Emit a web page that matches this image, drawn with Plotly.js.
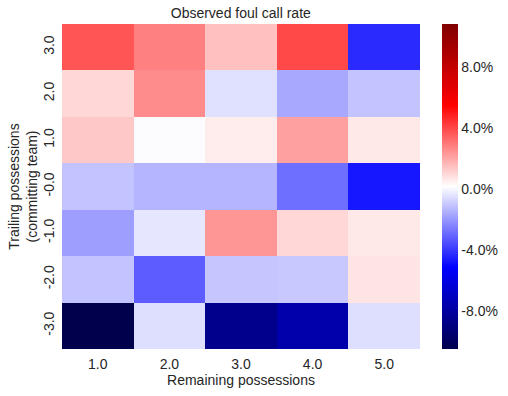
<!DOCTYPE html>
<html>
<head>
<meta charset="utf-8">
<script src="https://cdn.plot.ly/plotly-3.0.1.min.js"></script>
<style>html,body{margin:0;padding:0;background:#fff;}#chart{width:508px;height:396px;}</style>
</head>
<body>
<div id="chart"></div>
<script>
// Columns: remaining possessions; rows: trailing possessions (top to bottom)
const remaining = ["1.0", "2.0", "3.0", "4.0", "5.0"];
const trailing = ["3.0", "2.0", "1.0", "-0.0", "-1.0", "-2.0", "-3.0"];
// Observed foul call rate (percent), one array per trailing row
const row_p3 = [3.74, 2.83, 1.50, 4.00, -4.29];
const row_p2 = [1.01, 2.59, -0.47, -1.65, -1.08];
const row_p1 = [1.33, 0.11, 0.57, 2.16, 0.66];
const row_0 = [-1.08, -1.39, -1.39, -2.86, -4.70];
const row_m1 = [-1.85, -0.35, 2.37, 1.01, 0.66];
const row_m2 = [-1.08, -3.24, -1.02, -0.98, 0.74];
const row_m3 = [-10.5, -0.52, -8.6, -7.7, -0.52];
const colorTicks = [-8, -4, 0, 4, 8];

const z = [row_p3, row_p2, row_p1, row_0, row_m1, row_m2, row_m3];

const seismic = [
  [0, "rgb(0,0,77)"],
  [0.25, "rgb(0,0,255)"],
  [0.5, "rgb(255,255,255)"],
  [0.75, "rgb(255,0,0)"],
  [1, "rgb(128,0,0)"]
];

const font = {family: "Liberation Sans, Arial, sans-serif", size: 14, color: "#262626"};

Plotly.newPlot("chart", [{
  type: "heatmap",
  x: remaining,
  y: trailing,
  z: z,
  zmin: -10.5,
  zmax: 10.85,
  colorscale: seismic,
  xgap: 0, ygap: 0,
  colorbar: {
    x: 1.061, xanchor: "left", xref: "paper",
    y: 0, yanchor: "bottom", len: 1, lenmode: "fraction",
    thickness: 16, outlinewidth: 0, xpad: 0, ypad: 0,
    tickvals: colorTicks,
    ticktext: colorTicks.map(v => v.toFixed(1) + "%"),
    ticks: "", ticklabelpad: 6,
    tickfont: font
  }
}], {
  width: 508, height: 396,
  margin: {l: 62, r: 88, t: 24, b: 47, autoexpand: false},
  paper_bgcolor: "#fff", plot_bgcolor: "#fff",
  font: font,
  title: {text: "Observed foul call rate", font: {family: font.family, size: 14, color: "#262626"}, x: 0.474, xanchor: "center", y: 0.968, yanchor: "middle"},
  xaxis: {
    type: "category", showgrid: false, zeroline: false, showline: false, ticks: "",
    tickfont: font, ticklabelstandoff: 5,
    title: {text: "Remaining possessions", font: font, standoff: 3}
  },
  yaxis: {
    type: "category", autorange: "reversed", showgrid: false, zeroline: false, showline: false, ticks: "",
    tickangle: -90, tickfont: font, ticklabelstandoff: 4,
    title: {text: "Trailing possessions<br>(committing team)", font: font, standoff: 0}
  }
}, {staticPlot: true});
</script>
</body>
</html>
